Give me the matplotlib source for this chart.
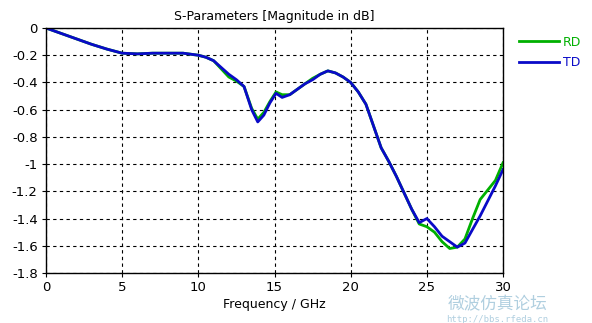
import numpy as np
import matplotlib.pyplot as plt

# frequency points (GHz)
freq = [0, 1, 2, 3, 4, 5, 6, 7, 8, 9, 10, 10.5, 11, 11.5, 12, 12.5, 13, 13.5,
        13.9, 14.3, 14.7, 15.1, 15.5, 16, 16.5, 17, 17.5, 18, 18.5, 19, 19.5,
        20, 20.5, 21, 21.5, 22, 22.5, 23, 23.5, 24, 24.5, 25, 25.5, 26, 26.5,
        27, 27.5, 28, 28.5, 29, 29.5, 30]

td = [0, -0.04, -0.08, -0.12, -0.155, -0.185, -0.19, -0.185, -0.185, -0.185,
      -0.2, -0.215, -0.24, -0.29, -0.34, -0.38, -0.43, -0.6, -0.69, -0.64,
      -0.55, -0.48, -0.51, -0.49, -0.45, -0.41, -0.38, -0.34, -0.315, -0.33,
      -0.36, -0.40, -0.47, -0.56, -0.72, -0.88, -0.98, -1.09, -1.21, -1.33,
      -1.43, -1.40, -1.46, -1.53, -1.57, -1.61, -1.58, -1.48, -1.38, -1.27,
      -1.16, -1.04]

rd = [0, -0.04, -0.08, -0.12, -0.155, -0.185, -0.19, -0.185, -0.185, -0.185,
      -0.2, -0.215, -0.24, -0.30, -0.36, -0.39, -0.43, -0.59, -0.67, -0.62,
      -0.54, -0.47, -0.49, -0.49, -0.45, -0.41, -0.37, -0.34, -0.315, -0.33,
      -0.36, -0.40, -0.47, -0.56, -0.72, -0.88, -0.98, -1.09, -1.21, -1.33,
      -1.44, -1.46, -1.50, -1.57, -1.62, -1.61, -1.55, -1.40, -1.26, -1.19,
      -1.12, -0.99]

xticks = [0, 5, 10, 15, 20, 25, 30]
yticks = [0, -0.2, -0.4, -0.6, -0.8, -1, -1.2, -1.4, -1.6, -1.8]
ytick_labels = ['0', '-0.2', '-0.4', '-0.6', '-0.8', '-1', '-1.2', '-1.4', '-1.6', '-1.8']

plt.rcParams['font.family'] = ['DejaVu Sans']
fig = plt.figure(figsize=(5.92, 3.23), dpi=100)
ax = fig.add_axes([0.0777, 0.1548, 0.772, 0.7585])

ax.plot(freq, rd, color='#00b000', lw=2.0, label='RD')
ax.plot(freq, td, color='#0a0ac8', lw=2.0, label='TD')

ax.set_xlim(0, 30)
ax.set_ylim(-1.8, 0)
ax.set_xticks(xticks)
ax.set_yticks(yticks)
ax.set_yticklabels(ytick_labels)
ax.tick_params(labelsize=9.5, direction='out', length=3, width=0.8, pad=3)
ax.grid(True, color='black', linestyle=(0, (3, 3)), linewidth=0.8)
for s in ax.spines.values():
    s.set_linewidth(1.0)

ax.set_title('S-Parameters [Magnitude in dB]', fontsize=9, pad=6)
ax.set_xlabel('Frequency / GHz', fontsize=9, labelpad=3)

leg = ax.legend(loc='upper left', bbox_to_anchor=(1.01, 1.015), frameon=False,
                fontsize=9, handlelength=3.2, handletextpad=0.3, labelspacing=0.6)
for t, c in zip(leg.get_texts(), ['#00b000', '#0a0ac8']):
    t.set_color(c)

# forum watermark
fig.text(0.84, 0.055, '微波仿真论坛', family=['Noto Sans CJK SC', 'DejaVu Sans'],
         fontsize=12, color='#9cc3d8', ha='center', va='center', alpha=0.8)
fig.text(0.84, 0.012, 'http://bbs.rfeda.cn', family='DejaVu Sans Mono',
         fontsize=6.5, color='#9cc3d8', ha='center', va='center', alpha=0.8)

fig.savefig('out.png', dpi=100)
